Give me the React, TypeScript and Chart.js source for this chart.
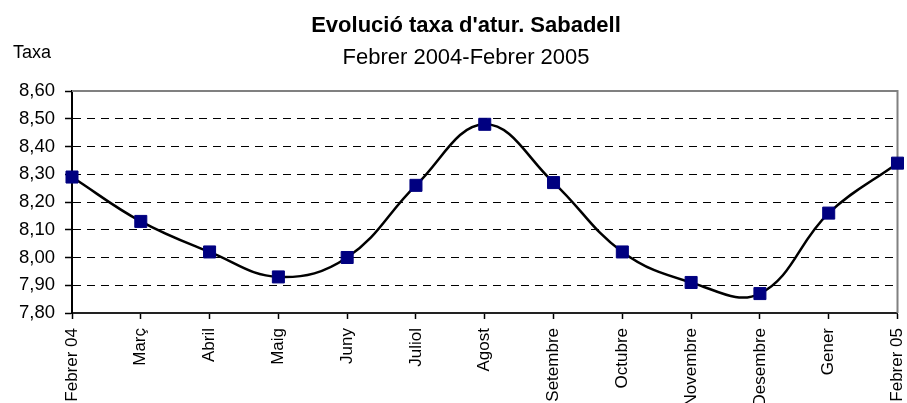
import React, { useEffect, useRef } from "react";
import { Chart, registerables } from "chart.js";

Chart.register(...registerables);

const categories = [
  "Febrer 04",
  "Març",
  "Abril",
  "Maig",
  "Juny",
  "Juliol",
  "Agost",
  "Setembre",
  "Octubre",
  "Novembre",
  "Desembre",
  "Gener",
  "Febrer 05",
];
const taxa = [8.29, 8.13, 8.02, 7.93, 8.0, 8.26, 8.48, 8.27, 8.02, 7.91, 7.87, 8.16, 8.34];
const yMin = 7.8;
const yMax = 8.6;
const yStep = 0.1;
const titleText = "Evolució taxa d'atur. Sabadell";
const subtitleText = "Febrer 2004-Febrer 2005";
const yAxisLabel = "Taxa";

const FONT = "'Liberation Sans', Arial, Helvetica, sans-serif";

const textPlugin = {
  id: "excelTexts",
  afterDraw(chart: any) {
    const ctx = chart.ctx;
    ctx.save();
    ctx.fillStyle = "#000";
    ctx.textBaseline = "alphabetic";
    ctx.textAlign = "center";
    ctx.font = `bold 22px ${FONT}`;
    ctx.fillText(titleText, 466, 32);
    ctx.font = `22px ${FONT}`;
    ctx.fillText(subtitleText, 466, 64);
    ctx.textAlign = "left";
    ctx.font = `18px ${FONT}`;
    ctx.fillText(yAxisLabel, 13, 58);
    ctx.restore();
  },
};

const framePlugin = {
  id: "plotFrame",
  beforeDatasetsDraw(chart: any) {
    const { left, right, top, bottom } = chart.chartArea;
    const ctx = chart.ctx;
    ctx.save();
    ctx.strokeStyle = "#808080";
    ctx.lineWidth = 2;
    ctx.setLineDash([]);
    ctx.beginPath();
    ctx.moveTo(left, top);
    ctx.lineTo(right, top);
    ctx.lineTo(right, bottom);
    ctx.stroke();
    ctx.restore();
  },
};

export default function App() {
  const canvasRef = useRef<HTMLCanvasElement | null>(null);

  useEffect(() => {
    if (!canvasRef.current) return;
    const chart = new Chart(canvasRef.current, {
      type: "line",
      data: {
        labels: categories,
        datasets: [
          {
            label: "Taxa",
            data: taxa,
            borderColor: "#000000",
            borderWidth: 2.5,
            tension: 0.4,
            fill: false,
            clip: false as any,
            pointStyle: "rect",
            pointRadius: 8.5,
            pointHoverRadius: 8.5,
            pointBackgroundColor: "#000080",
            pointBorderColor: "#000080",
            pointBorderWidth: 1,
          },
        ],
      },
      options: {
        animation: false,
        responsive: false,
        devicePixelRatio: 1,
        events: [],
        layout: { padding: { top: 91, right: 5, left: 0, bottom: 0 } },
        plugins: {
          legend: { display: false },
          title: { display: false },
          tooltip: { enabled: false },
        },
        scales: {
          x: {
            type: "category",
            offset: false,
            grid: {
              display: true,
              drawOnChartArea: false,
              drawTicks: true,
              tickLength: 6,
              tickColor: "#000",
              tickWidth: 1.5,
              color: "#000",
            },
            border: { display: true, color: "#222", width: 2 },
            ticks: {
              autoSkip: false,
              minRotation: 90,
              maxRotation: 90,
              padding: 9,
              color: "#000",
              font: { family: FONT, size: 17 },
            },
            afterFit: (s: any) => {
              s.height = 90;
              s.paddingLeft = 0;
              s.paddingRight = 0;
            },
          },
          y: {
            min: yMin,
            max: yMax,
            grid: {
              display: true,
              drawOnChartArea: true,
              drawTicks: true,
              tickLength: 7,
              color: "#000",
              lineWidth: 1,
              tickColor: "#000",
              tickWidth: 1.5,
              tickBorderDash: [],
            } as any,
            border: { display: true, color: "#000", width: 2, dash: [8, 6] },
            ticks: {
              stepSize: yStep,
              padding: 10,
              color: "#000",
              font: { family: FONT, size: 18.5 },
              callback: (v: any) => Number(v).toFixed(2).replace(".", ","),
            },
            afterFit: (s: any) => {
              s.width = 72;
            },
          },
        },
      },
      plugins: [framePlugin, textPlugin],
    });
    return () => chart.destroy();
  }, []);

  return (
    <div style={{ position: "absolute", left: 0, top: 0, width: 907, height: 403, background: "#fff" }}>
      <canvas ref={canvasRef} width={907} height={403} style={{ width: 907, height: 403, display: "block" }} />
    </div>
  );
}
